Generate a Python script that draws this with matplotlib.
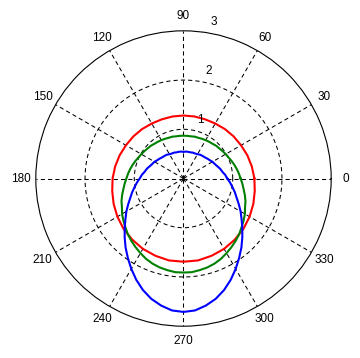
import numpy as np
import matplotlib
matplotlib.use('Agg')
import matplotlib.pyplot as plt

plt.rcParams['font.family'] = ['Liberation Sans', 'DejaVu Sans']

# Data (radius vs angle in degrees)
angles_red = list(range(0, 360, 10))
r_red = [1.44, 1.41, 1.38, 1.35, 1.33, 1.31, 1.29, 1.28, 1.28, 1.28, 1.28, 1.28,
         1.29, 1.31, 1.33, 1.35, 1.38, 1.41, 1.44, 1.47, 1.51, 1.55, 1.59, 1.62,
         1.65, 1.67, 1.69, 1.69, 1.69, 1.67, 1.65, 1.62, 1.59, 1.55, 1.51, 1.47]

angles_gb = list(range(0, 360, 5))
r_green = [1.16, 1.13, 1.10, 1.07, 1.04, 1.01, 0.99, 0.97, 0.95, 0.94, 0.92, 0.91,
           0.90, 0.89, 0.88, 0.88, 0.87, 0.87, 0.87, 0.87, 0.87, 0.88, 0.88, 0.89,
           0.90, 0.91, 0.92, 0.94, 0.95, 0.97, 0.99, 1.01, 1.04, 1.07, 1.10, 1.13,
           1.16, 1.20, 1.24, 1.29, 1.34, 1.38, 1.44, 1.49, 1.54, 1.60, 1.65, 1.70,
           1.75, 1.80, 1.84, 1.87, 1.89, 1.91, 1.91, 1.91, 1.89, 1.87, 1.84, 1.80,
           1.75, 1.70, 1.65, 1.60, 1.54, 1.49, 1.44, 1.38, 1.34, 1.29, 1.24, 1.20]
r_blue = [0.89, 0.85, 0.80, 0.77, 0.73, 0.70, 0.68, 0.65, 0.63, 0.61, 0.60, 0.59,
          0.57, 0.56, 0.56, 0.55, 0.55, 0.55, 0.54, 0.55, 0.55, 0.55, 0.56, 0.56,
          0.57, 0.59, 0.60, 0.61, 0.63, 0.65, 0.68, 0.70, 0.73, 0.77, 0.80, 0.85,
          0.89, 0.95, 1.01, 1.08, 1.15, 1.24, 1.34, 1.44, 1.56, 1.69, 1.83, 1.97,
          2.12, 2.27, 2.41, 2.53, 2.62, 2.69, 2.71, 2.69, 2.62, 2.53, 2.41, 2.27,
          2.12, 1.97, 1.83, 1.69, 1.56, 1.44, 1.34, 1.24, 1.15, 1.08, 1.01, 0.95]

spoke_angles = list(range(0, 360, 30))
ring_radii = [1, 2, 3]
r_max = 3


def closed(angles, radii):
    t = np.deg2rad(angles + angles[:1])
    return t, radii + radii[:1]


fig = plt.figure(figsize=(3.6, 3.58), dpi=100)
ax = fig.add_axes([0.0994, 0.0888, 0.8206, 0.8251], projection='polar')
ax.set_ylim(0, r_max)
ax.grid(False)
ax.set_xticks([])
ax.set_yticks([])
ax.spines['polar'].set_linewidth(0.8)

# grid: dashed rings and spokes
ring = np.linspace(0, 2 * np.pi, 361)
for rr in ring_radii[:-1]:
    ax.plot(ring, np.full_like(ring, rr), color='k', lw=0.75, ls=(0, (4, 3)))
for a in spoke_angles:
    t = np.deg2rad(a)
    ax.plot([t, t], [0, r_max], color='k', lw=0.75, ls=(0, (4, 3)))
    ax.text(t, 1.1 * r_max, str(a), ha='center', va='center', fontsize=8.5, clip_on=False)

# ring labels
for rr, a in zip(ring_radii, [74, 77, 79]):
    ax.text(np.deg2rad(a), rr + 0.24, str(rr), ha='center', va='center', fontsize=8.5, clip_on=False)

# curves
ax.plot(*closed(angles_red, r_red), color='r', lw=1.5)
ax.plot(*closed(angles_gb, r_green), color='g', lw=1.5)
ax.plot(*closed(angles_gb, r_blue), color='b', lw=1.5)

fig.savefig('out.png')
